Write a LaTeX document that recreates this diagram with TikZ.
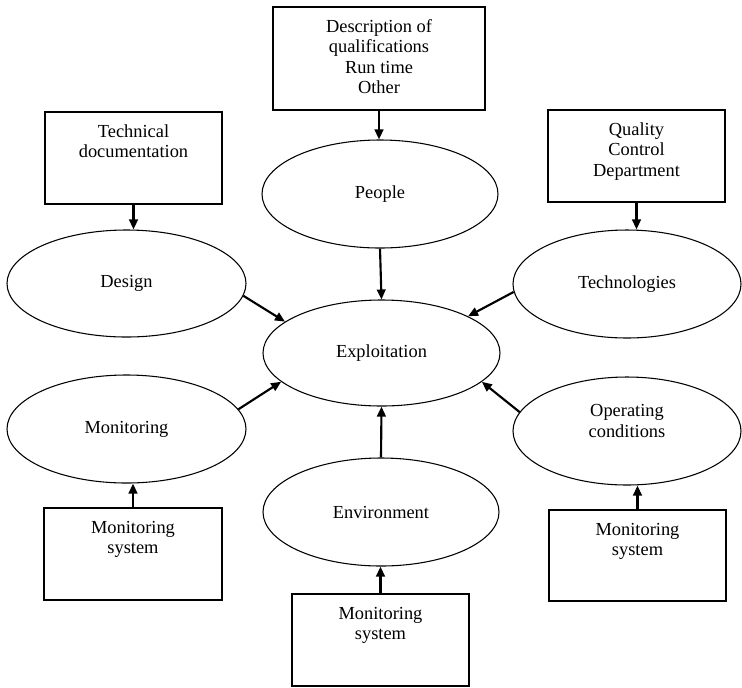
\documentclass[tikz,border=0pt]{standalone}
\usepackage{fontspec}
\setmainfont{Liberation Serif}
\usetikzlibrary{shapes.geometric,arrows.meta}
\newcommand{\boxtxt}[3]{\begin{minipage}[c][#2][t]{#1}\centering\vspace*{8pt}\strut #3\end{minipage}}
\begin{document}
\begin{tikzpicture}[x=0.75pt,y=-0.75pt,
  every node/.style={font=\fontsize{13.8}{15.4}\selectfont},
  ell/.style={draw, ellipse, line width=0.8pt, inner sep=0pt, align=center},
  bx/.style={draw, rectangle, line width=0.8pt, inner sep=0pt},
  arr/.style={line width=1.6pt, -{Triangle[length=7.5pt,width=6.5pt]}}]
\useasboundingbox (0,0) rectangle (742,687);

% ellipses
\node[ell, minimum width=177pt, minimum height=81pt] (people) at (380,194) {People};
\node[ell, minimum width=177.75pt, minimum height=79.5pt] (exploit) at (381.5,353) {Exploitation};
\node[ell, minimum width=177pt, minimum height=81pt] (env) at (381,512) {Environment};
\node[ell, minimum width=179.25pt, minimum height=80.25pt] (design) at (126.5,283.5) {Design};
\node[ell, minimum width=179.25pt, minimum height=81pt] (mon) at (126.5,429) {Monitoring};
\node[ell, minimum width=171pt, minimum height=81pt] (tech) at (627,284) {Technologies};
\node[ell, minimum width=171pt, minimum height=81pt] (op) at (627,431) {Operating\\conditions\\\mbox{}};

% boxes
\node[bx] (desc) at (379,58.5) {\boxtxt{159pt}{77.25pt}{Description of\\qualifications\\Run time\\Other}};
\node[bx] (techdoc) at (133.5,158) {\boxtxt{132.75pt}{69pt}{Technical\\documentation}};
\node[bx] (qual) at (636.5,156) {\boxtxt{132.75pt}{69pt}{Quality\\Control\\Department}};
\node[bx] (msl) at (133,554) {\boxtxt{133.5pt}{69pt}{Monitoring\\system}};
\node[bx] (msr) at (637.5,555.5) {\boxtxt{132.75pt}{68.25pt}{Monitoring\\system}};
\node[bx] (msb) at (380.5,640) {\boxtxt{132.75pt}{69pt}{Monitoring\\system}};

% vertical arrows
\draw[arr] (desc.south) -- (desc.south |- people.north);
\draw[arr] (people.south) -- (exploit.north);
\draw[arr] (env.north) -- (exploit.south);
\draw[arr] (msb.north) -- (msb.north |- env.south);
\draw[arr] (techdoc.south) -- (techdoc.south |- design.north);
\draw[arr] (qual.south) -- (qual.south |- tech.north);
\draw[arr] (msl.north) -- (msl.north |- mon.south);
\draw[arr] (msr.north) -- (msr.north |- op.south);

% diagonal arrows
\draw[arr] (design.-6.6) -- (exploit.162.4);
\draw[arr] (tech.184) -- (exploit.23.6);
\draw[arr] (mon.10.8) -- (exploit.196.8);
\draw[arr] (op.170.6) -- (exploit.-16.5);
\end{tikzpicture}
\end{document}
